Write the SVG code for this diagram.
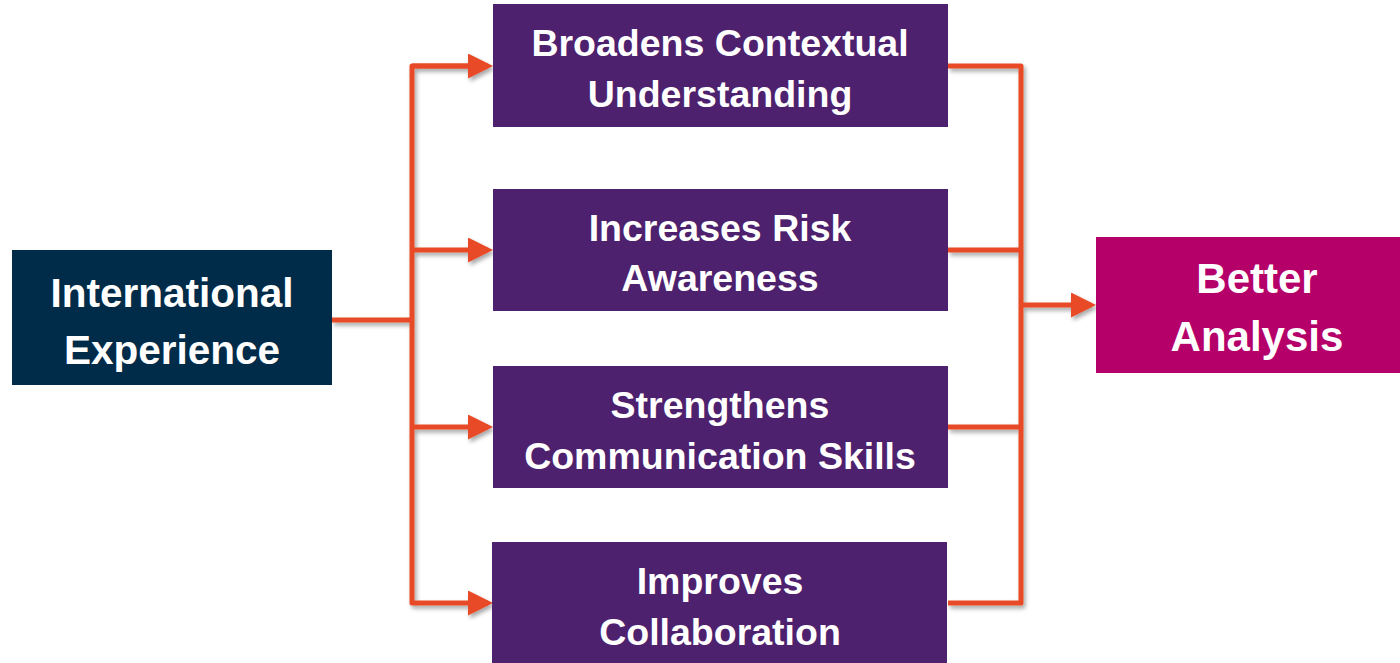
<svg xmlns="http://www.w3.org/2000/svg" width="1400" height="663" viewBox="0 0 1400 663">
<defs>
<style>
.t{font-family:"Liberation Sans",Arial,sans-serif;font-weight:bold;fill:#fff;text-anchor:middle}
.p{font-size:37.5px}
.c{fill:none;stroke:#e84a27;stroke-width:5;stroke-linejoin:round}
</style>
<filter id="sh" x="-10%" y="-10%" width="130%" height="130%">
<feDropShadow dx="2" dy="3" stdDeviation="2" flood-color="#000" flood-opacity="0.35"/>
</filter>
<marker id="ah" markerWidth="5" markerHeight="5" refX="4" refY="2.5" orient="auto" markerUnits="strokeWidth">
<path d="M0,0 L5,2.5 L0,5 z" fill="#e84a27"/>
</marker>
</defs>
<rect width="1400" height="663" fill="#fff"/>
<g id="connectors" filter="url(#sh)">
<path class="c" d="M332,320 H412"/>
<path class="c" d="M488,66 H412 V603 H488" marker-end="url(#ah)"/>
<path class="c" d="M412,66 H488" marker-end="url(#ah)"/>
<path class="c" d="M412,250 H488" marker-end="url(#ah)"/>
<path class="c" d="M412,427 H488" marker-end="url(#ah)"/>
<path class="c" d="M948,66 H1021 V603 H948"/>
<path class="c" d="M948,250 H1021"/>
<path class="c" d="M948,427 H1021"/>
<path class="c" d="M1021,305 H1091" marker-end="url(#ah)"/>
</g>
<g id="n-international">
<rect x="12" y="250" width="320" height="135" fill="#002b49"/>
<text class="t" x="172" y="307" font-size="40.5">International</text>
<text class="t" x="172" y="364" font-size="40.5">Experience</text>
</g>
<g id="n-broadens">
<rect x="493" y="4" width="455" height="123" fill="#4d216e"/>
<text class="t p" x="720" y="56">Broadens Contextual</text>
<text class="t p" x="720" y="107">Understanding</text>
</g>
<g id="n-risk">
<rect x="493" y="189" width="455" height="122" fill="#4d216e"/>
<text class="t p" x="720" y="241">Increases Risk</text>
<text class="t p" x="720" y="291">Awareness</text>
</g>
<g id="n-comm">
<rect x="493" y="366" width="455" height="122" fill="#4d216e"/>
<text class="t p" x="720" y="418">Strengthens</text>
<text class="t p" x="720" y="469">Communication Skills</text>
</g>
<g id="n-collab">
<rect x="492" y="542" width="455" height="121" fill="#4d216e"/>
<text class="t p" x="720" y="594">Improves</text>
<text class="t p" x="720" y="645">Collaboration</text>
</g>
<g id="n-better">
<rect x="1096" y="237" width="304" height="136" fill="#b5006a"/>
<text class="t" x="1257" y="293" font-size="42">Better</text>
<text class="t" x="1257" y="351" font-size="42">Analysis</text>
</g>
</svg>
